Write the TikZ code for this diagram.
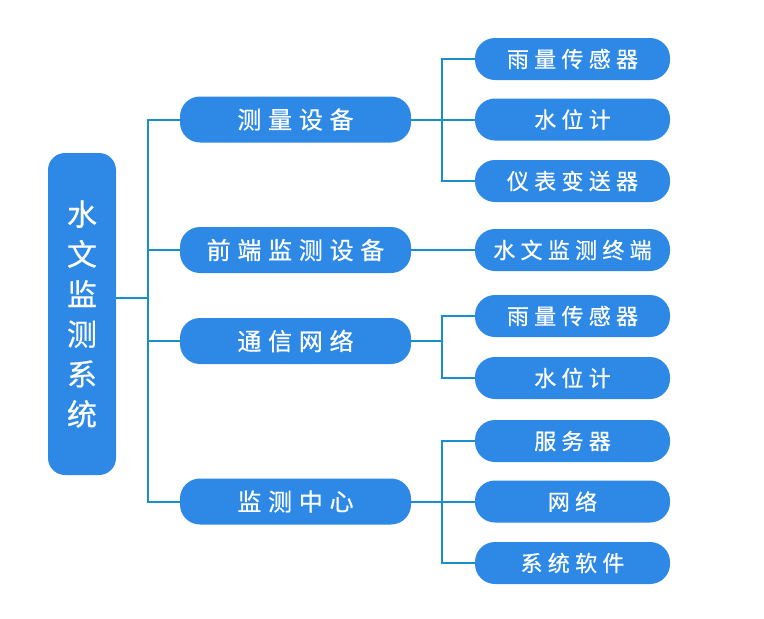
\documentclass[tikz,border=0pt]{standalone}
\usepackage{fontspec}
\newfontfamily\cjkmid[LetterSpace=28,FakeBold=0.6]{Noto Sans CJK SC}
\newfontfamily\cjkleaf[LetterSpace=24,FakeBold=0.6]{Noto Sans CJK SC}
\newfontfamily\cjkroot[FakeBold=0.6]{Noto Sans CJK SC}
\definecolor{boxblue}{RGB}{45,137,229}
\definecolor{linkblue}{RGB}{24,143,200}
\begin{document}
\begin{tikzpicture}[x=1pt,y=-1pt,
  rootbox/.style={fill=boxblue,draw=none,rounded corners=17pt,text=white,inner sep=0pt,
    minimum width=68pt,minimum height=322pt,align=center,font=\cjkroot\fontsize{30}{40}\selectfont},
  midbox/.style={fill=boxblue,draw=none,rounded corners=20pt,text=white,inner sep=0pt,
    minimum width=231pt,minimum height=46pt,font=\cjkmid\fontsize{24}{28}\selectfont},
  leafbox/.style={fill=boxblue,draw=none,rounded corners=20pt,text=white,inner sep=0pt,
    minimum width=195pt,minimum height=42pt,font=\cjkleaf\fontsize{22}{26}\selectfont},
  conn/.style={draw=linkblue,line width=2pt}]
\useasboundingbox (0,0) rectangle (764,619);

\node[rootbox] (root) at (82,314) {水\\文\\监\\测\\系\\统};

\node[midbox] (m1) at (295.5,119.5) {测量设备};
\node[midbox] (m2) at (295.5,250) {前端监测设备};
\node[midbox] (m3) at (295.5,341) {通信网络};
\node[midbox] (m4) at (295.5,501.5) {监测中心};

\node[leafbox] (l1) at (572.5,59) {雨量传感器};
\node[leafbox] (l2) at (572.5,119.5) {水位计};
\node[leafbox] (l3) at (572.5,181) {仪表变送器};
\node[leafbox] (l4) at (572.5,250) {水文监测终端};
\node[leafbox] (l5) at (572.5,316) {雨量传感器};
\node[leafbox] (l6) at (572.5,378) {水位计};
\node[leafbox] (l7) at (572.5,441) {服务器};
\node[leafbox] (l8) at (572.5,501.5) {网络};
\node[leafbox] (l9) at (572.5,563) {系统软件};

% trunk
\coordinate (tj) at (148,298);
\draw[conn] (root.east |- tj) -- (tj);
\draw[conn] (m1.west) -| (tj) |- (m4.west);
\draw[conn] (m2.west) -- (m2.west -| tj);
\draw[conn] (m3.west) -- (m3.west -| tj);

% branches
\coordinate (b1) at (442,119.5);
\draw[conn] (m1.east) -- (l2.west);
\draw[conn] (l1.west) -| (b1) |- (l3.west);
\draw[conn] (m2.east) -- (l4.west);
\coordinate (b3) at (442,341);
\draw[conn] (m3.east) -- (b3);
\draw[conn] (l5.west) -| (b3) |- (l6.west);
\coordinate (b4) at (442,501.5);
\draw[conn] (m4.east) -- (l8.west);
\draw[conn] (l7.west) -| (b4) |- (l9.west);
\end{tikzpicture}
\end{document}
